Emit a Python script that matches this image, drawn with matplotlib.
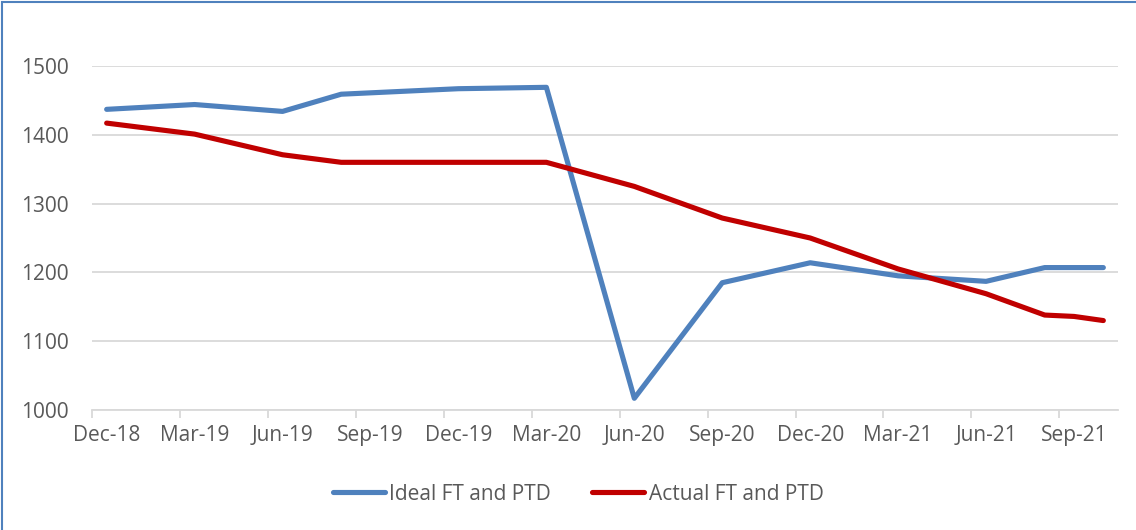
import matplotlib
matplotlib.use("Agg")
import matplotlib.pyplot as plt
import pandas as pd
from matplotlib.lines import Line2D
from matplotlib.patches import Rectangle

plt.rcParams['font.family'] = ['Open Sans', 'DejaVu Sans']

dates = ["2018-12", "2019-03", "2019-06", "2019-08", "2019-12", "2020-03", "2020-06",
         "2020-09", "2020-12", "2021-03", "2021-06", "2021-08", "2021-09", "2021-10"]
ideal = [1437, 1444, 1434, 1459, 1467, 1469, 1017, 1185, 1214, 1195, 1187, 1207, 1207, 1207]
actual = [1417, 1401, 1371, 1360, 1360, 1360, 1325, 1279, 1250, 1205, 1169, 1138, 1136, 1130]
tick_labels = ["Dec-18", "Mar-19", "Jun-19", "Sep-19", "Dec-19", "Mar-20", "Jun-20",
               "Sep-20", "Dec-20", "Mar-21", "Jun-21", "Sep-21"]
series_names = ["Ideal FT and PTD", "Actual FT and PTD"]
colors = ["#4F81BD", "#C00000"]

start = pd.Period("2018-12", freq="M")
x = [(pd.Period(d, freq="M") - start).n for d in dates]

fig = plt.figure(figsize=(11.36, 5.30), dpi=100)
ax = fig.add_axes([92/1136, 1-410/530, (1118-92)/1136, (410-66)/530])

for vals, c, name in zip([ideal, actual], colors, series_names):
    ax.plot(x, vals, color=c, lw=3.7, solid_capstyle='round', solid_joinstyle='round', label=name)

ax.set_xlim(-0.5, 34.5)
ax.set_ylim(1000, 1500)
ax.set_yticks([1000, 1100, 1200, 1300, 1400, 1500])
ax.grid(axis='y', color='#D9D9D9', lw=1.3)
ax.set_axisbelow(True)
for s in ['top', 'right', 'left']:
    ax.spines[s].set_visible(False)
ax.spines['bottom'].set_color('#D9D9D9')
ax.spines['bottom'].set_linewidth(1.3)
ax.tick_params(axis='y', length=0, pad=17, labelsize=15, labelcolor='#595959')

major = [i * 3 for i in range(len(tick_labels))]
ax.set_xticks(major)
ax.set_xticklabels(tick_labels)
ax.tick_params(axis='x', which='major', length=0, pad=11, labelsize=15, labelcolor='#595959')
ax.set_xticks([m - 0.5 for m in major], minor=True)
ax.tick_params(axis='x', which='minor', length=6, width=1.3, color='#D9D9D9', direction='out')

handles = [Line2D([0], [0], color=c, lw=3.7, solid_capstyle='round') for c in colors]
leg = fig.legend(handles, series_names, loc='center', bbox_to_anchor=(578/1136, 1-494/530),
                 ncol=2, frameon=False, fontsize=15, handlelength=2.5, handletextpad=0.2,
                 columnspacing=2.0, labelcolor='#595959')

fig.add_artist(Rectangle((2/1136, -0.1), 1.5, 1.1 - 2/530, transform=fig.transFigure,
                         fill=False, edgecolor='#4F81BD', lw=1.5))

fig.savefig("out.png", dpi=100)
